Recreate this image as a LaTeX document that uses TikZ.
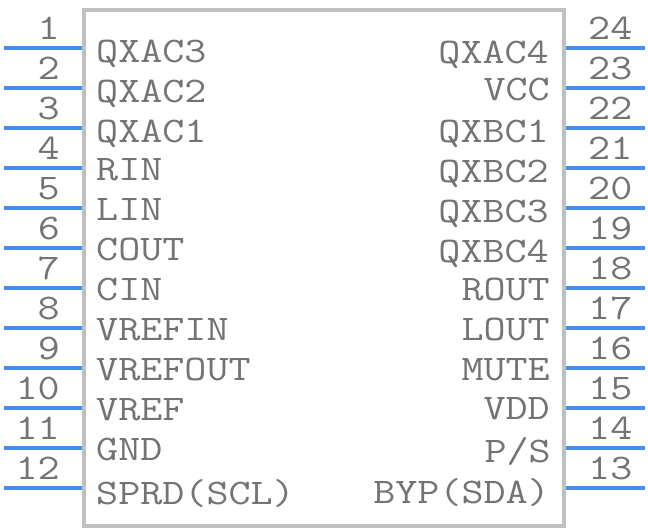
\documentclass[tikz,border=0pt]{standalone}
\usepackage{fontspec}
\setmonofont{Latin Modern Mono}[FakeStretch=1.19]
\definecolor{pinblue}{RGB}{70,140,240}
\definecolor{bodygrey}{RGB}{192,192,192}
\definecolor{textgrey}{RGB}{115,115,115}
\tikzset{
    pin/.style={draw=pinblue,line width=4pt},
    body/.style={draw=bodygrey,line width=4pt,fill=white},
    lab/.style={inner sep=0pt,text=textgrey,font=\fontsize{36}{36}\selectfont\ttfamily},
    leftlab/.style={lab,anchor=base west},
    rightlab/.style={lab,anchor=base east},
    numleft/.style={lab,anchor=base east},
    numright/.style={lab,anchor=base west}
}

\begin{document}
\begin{tikzpicture}[x=1pt,y=1pt]
            \useasboundingbox (0,0) rectangle (648,532);
            \draw[body] (84,6) rectangle (564,522);

            \draw[pin] (4,484) coordinate (a1) -- (82,484) coordinate (b1);
            \draw[pin] (4,444) coordinate (a2) -- (82,444) coordinate (b2);
            \draw[pin] (4,404) coordinate (a3) -- (82,404) coordinate (b3);
            \draw[pin] (4,364) coordinate (a4) -- (82,364) coordinate (b4);
            \draw[pin] (4,324) coordinate (a5) -- (82,324) coordinate (b5);
            \draw[pin] (4,284) coordinate (a6) -- (82,284) coordinate (b6);
            \draw[pin] (4,244) coordinate (a7) -- (82,244) coordinate (b7);
            \draw[pin] (4,204) coordinate (a8) -- (82,204) coordinate (b8);
            \draw[pin] (4,164) coordinate (a9) -- (82,164) coordinate (b9);
            \draw[pin] (4,124) coordinate (a10) -- (82,124) coordinate (b10);
            \draw[pin] (4,84) coordinate (a11) -- (82,84) coordinate (b11);
            \draw[pin] (4,44) coordinate (a12) -- (82,44) coordinate (b12);

            \draw[pin] (566,44) coordinate (a13) -- (645,44) coordinate (b13);
            \draw[pin] (566,84) coordinate (a14) -- (645,84) coordinate (b14);
            \draw[pin] (566,124) coordinate (a15) -- (645,124) coordinate (b15);
            \draw[pin] (566,164) coordinate (a16) -- (645,164) coordinate (b16);
            \draw[pin] (566,204) coordinate (a17) -- (645,204) coordinate (b17);
            \draw[pin] (566,244) coordinate (a18) -- (645,244) coordinate (b18);
            \draw[pin] (566,284) coordinate (a19) -- (645,284) coordinate (b19);
            \draw[pin] (566,324) coordinate (a20) -- (645,324) coordinate (b20);
            \draw[pin] (566,364) coordinate (a21) -- (645,364) coordinate (b21);
            \draw[pin] (566,404) coordinate (a22) -- (645,404) coordinate (b22);
            \draw[pin] (566,444) coordinate (a23) -- (645,444) coordinate (b23);
            \draw[pin] (566,484) coordinate (a24) -- (645,484) coordinate (b24);

            \node[numleft] (num1) at (60,492) {1};
            \node[numleft] (num2) at (60,452) {2};
            \node[numleft] (num3) at (60,412) {3};
            \node[numleft] (num4) at (60,372) {4};
            \node[numleft] (num5) at (60,332) {5};
            \node[numleft] (num6) at (60,292) {6};
            \node[numleft] (num7) at (60,252) {7};
            \node[numleft] (num8) at (60,212) {8};
            \node[numleft] (num9) at (60,172) {9};
            \node[numleft] (num10) at (60,132) {10};
            \node[numleft] (num11) at (60,92) {11};
            \node[numleft] (num12) at (60,52) {12};

            \node[numright] (num13) at (588,52) {13};
            \node[numright] (num14) at (588,92) {14};
            \node[numright] (num15) at (588,132) {15};
            \node[numright] (num16) at (588,172) {16};
            \node[numright] (num17) at (588,212) {17};
            \node[numright] (num18) at (588,252) {18};
            \node[numright] (num19) at (588,292) {19};
            \node[numright] (num20) at (588,332) {20};
            \node[numright] (num21) at (588,372) {21};
            \node[numright] (num22) at (588,412) {22};
            \node[numright] (num23) at (588,452) {23};
            \node[numright] (num24) at (588,492) {24};

            \node[leftlab] (lab1) at (96,469) {QXAC3};
            \node[leftlab] (lab2) at (96,429) {QXAC2};
            \node[leftlab] (lab3) at (96,389) {QXAC1};
            \node[leftlab] (lab4) at (96,351) {RIN};
            \node[leftlab] (lab5) at (96,311) {LIN};
            \node[leftlab] (lab6) at (96,271) {COUT};
            \node[leftlab] (lab7) at (96,231) {CIN};
            \node[leftlab] (lab8) at (96,191) {VREFIN};
            \node[leftlab] (lab9) at (96,151) {VREFOUT};
            \node[leftlab] (lab10) at (96,111) {VREF};
            \node[leftlab] (lab11) at (96,71) {GND};
            \node[leftlab] (lab12) at (96,27) {SPRD(SCL)};

            \node[rightlab] (lab13) at (550,28) {BYP(SDA)};
            \node[rightlab] (lab14) at (551,69) {P/S};
            \node[rightlab] (lab15) at (550,112) {VDD};
            \node[rightlab] (lab16) at (550,151) {MUTE};
            \node[rightlab] (lab17) at (550,191) {LOUT};
            \node[rightlab] (lab18) at (550,231) {ROUT};
            \node[rightlab] (lab19) at (549,269) {QXBC4};
            \node[rightlab] (lab20) at (549,309) {QXBC3};
            \node[rightlab] (lab21) at (549,349) {QXBC2};
            \node[rightlab] (lab22) at (549,389) {QXBC1};
            \node[rightlab] (lab23) at (550,431) {VCC};
            \node[rightlab] (lab24) at (549,468) {QXAC4};
        \end{tikzpicture}
\end{document}
